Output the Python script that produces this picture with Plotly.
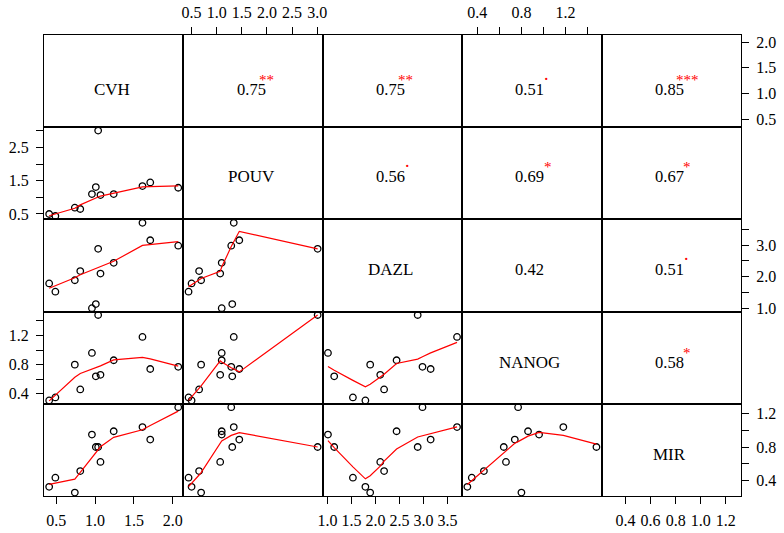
import numpy as np
import plotly.graph_objects as go
from plotly.subplots import make_subplots

# ---------------- data ----------------
names = ["CVH", "POUV", "DAZL", "NANOG", "MIR"]
CVH   = [0.41, 0.49, 0.74, 0.81, 0.96, 1.01, 1.04, 1.07, 1.24, 1.61, 1.71, 2.07]
POUV  = [0.50, 0.44, 0.69, 0.65, 1.10, 1.31, 3.01, 1.07, 1.10, 1.34, 1.45, 1.29]
DAZL  = [1.79, 1.53, 1.89, 2.18, 1.01, 1.14, 2.88, 2.10, 2.44, 3.70, 3.15, 2.98]
NANOG = [0.31, 0.35, 0.80, 0.46, 0.96, 0.64, 1.48, 0.66, 0.86, 1.18, 0.74, 0.77]
MIR   = [0.32, 0.43, 0.25, 0.51, 0.95, 0.80, 0.80, 0.62, 0.99, 1.04, 0.89, 1.28]

# upper-triangle correlations (row by row) and significance marks
corr_values = [0.75, 0.75, 0.51, 0.85, 0.56, 0.69, 0.67, 0.42, 0.51, 0.58]
corr_stars  = ["**", "**", ".", "***", ".", "*", "*", "", ".", "*"]

# tick values / labels: outer (top/bottom) axes of columns
col_tickvals = [[0.5, 1.0, 1.5, 2.0],
                [0.5, 1.0, 1.5, 2.0, 2.5, 3.0],
                [1.0, 1.5, 2.0, 2.5, 3.0, 3.5],
                [0.4, 0.6, 0.8, 1.0, 1.2, 1.4],
                [0.4, 0.6, 0.8, 1.0, 1.2]]
col_ticktext = [["0.5", "1.0", "1.5", "2.0"],
                ["0.5", "1.0", "1.5", "2.0", "2.5", "3.0"],
                ["1.0", "1.5", "2.0", "2.5", "3.0", "3.5"],
                ["0.4", "", "0.8", "", "1.2", ""],
                ["0.4", "0.6", "0.8", "1.0", "1.2"]]
# outer (left/right) axes of rows
row_tickvals = [[0.5, 1.0, 1.5, 2.0],
                [0.5, 1.0, 1.5, 2.0, 2.5, 3.0],
                [1.0, 1.5, 2.0, 2.5, 3.0, 3.5],
                [0.4, 0.6, 0.8, 1.0, 1.2, 1.4],
                [0.4, 0.6, 0.8, 1.0, 1.2]]
row_ticktext = [["0.5", "1.0", "1.5", "2.0"],
                ["0.5", "", "1.5", "", "2.5", ""],
                ["1.0", "", "2.0", "", "3.0", ""],
                ["0.4", "", "0.8", "", "1.2", ""],
                ["0.4", "", "0.8", "", "1.2"]]

data = [CVH, POUV, DAZL, NANOG, MIR]
FONT = "Liberation Serif"


def lowess(x, y, f=2 / 3, nsteps=3):
    """Port of R's clowess (stats::lowess)."""
    x = np.asarray(x, float)
    y = np.asarray(y, float)
    o = np.argsort(x, kind="stable")
    x = x[o]
    y = y[o]
    n = len(x)
    delta = 0.01 * (x[-1] - x[0])
    ns = max(2, min(n, int(f * n + 1e-7)))
    ys = np.zeros(n)
    state = {"rw": np.ones(n)}

    def lowest(xs, nleft, nright, userw):
        rng = x[n - 1] - x[0]
        h = max(xs - x[nleft], x[nright] - xs)
        h9 = 0.999 * h
        h1 = 0.001 * h
        w = np.zeros(n)
        a = 0.0
        j = nleft
        while j < n:
            r = abs(x[j] - xs)
            if r <= h9:
                if r <= h1:
                    w[j] = 1.0
                else:
                    w[j] = (1 - (r / h) ** 3) ** 3
                if userw:
                    w[j] *= state["rw"][j]
                a += w[j]
            elif x[j] > xs:
                break
            j += 1
        nrt = j - 1
        if a <= 0:
            return None
        sl = slice(nleft, nrt + 1)
        w[sl] /= a
        if h > 0:
            a = np.sum(w[sl] * x[sl])
            b = xs - a
            c = np.sum(w[sl] * (x[sl] - a) ** 2)
            if np.sqrt(c) > 0.001 * rng:
                b /= c
                w[sl] *= (b * (x[sl] - a) + 1)
        return np.sum(w[sl] * y[sl])

    it = 1
    while it <= nsteps + 1:
        nleft = 0
        nright = ns - 1
        last = -1
        i = 0
        while True:
            if nright < n - 1:
                d1 = x[i] - x[nleft]
                d2 = x[nright + 1] - x[i]
                if d1 > d2:
                    nleft += 1
                    nright += 1
                    continue
            v = lowest(x[i], nleft, nright, it > 1)
            ys[i] = y[i] if v is None else v
            if last < i - 1:
                denom = x[i] - x[last]
                for j in range(last + 1, i):
                    alpha = (x[j] - x[last]) / denom
                    ys[j] = alpha * ys[i] + (1 - alpha) * ys[last]
            last = i
            cut = x[last] + delta
            i = last + 1
            while i < n:
                if x[i] > cut:
                    break
                if x[i] == x[last]:
                    ys[i] = ys[last]
                    last = i
                i += 1
            i = max(last + 1, i - 1)
            if last >= n - 1:
                break
        res = y - ys
        sc = np.mean(np.abs(res))
        if it > nsteps:
            break
        ar = np.sort(np.abs(res))
        m1 = n // 2
        if n % 2 == 0:
            m2 = n - m1 - 1
            cmad = 3 * (ar[m1] + ar[m2])
        else:
            cmad = 6 * ar[m1]
        if cmad < 1e-7 * sc:
            break
        c9 = 0.999 * cmad
        c1 = 0.001 * cmad
        r = np.abs(res)
        state["rw"] = np.where(r <= c1, 1.0,
                               np.where(r <= c9, (1 - (r / cmad) ** 2) ** 2, 0.0))
        it += 1
    return x, ys


def prange(v):
    lo, hi = min(v), max(v)
    d = hi - lo
    return [lo - 0.04 * d, hi + 0.04 * d]


N = len(names)
fig = make_subplots(rows=N, cols=N, horizontal_spacing=0, vertical_spacing=0)

tickfont = dict(family=FONT, size=16, color="black")
row_yshift = [-8, -3, -4, -4.5, -4.5]
star_xshift = {"*": 16, "**": 13, "***": 16, ".": 15}
star_yshift = {"*": 9, "**": 9, "***": 9, ".": 15}
star_size = {"*": 15, "**": 15, "***": 15, ".": 18}

annotations = []
k_up = 0
for r in range(N):
    for c in range(N):
        k = r * N + c + 1
        suf = "" if k == 1 else str(k)
        if r > c:
            fig.add_trace(go.Scatter(
                x=data[c], y=data[r], mode="markers",
                marker=dict(symbol="circle-open", size=6.5, color="black",
                            line=dict(width=1.3, color="black")),
                hoverinfo="skip"), row=r + 1, col=c + 1)
            lx, ly = lowess(data[c], data[r])
            fig.add_trace(go.Scatter(
                x=lx, y=ly, mode="lines",
                line=dict(color="red", width=1.2), hoverinfo="skip"),
                row=r + 1, col=c + 1)
        else:
            # invisible placeholder so the (empty) panel and its axes exist
            fig.add_trace(go.Scatter(
                x=[float(np.mean(data[c]))], y=[float(np.mean(data[r]))],
                mode="markers", marker=dict(opacity=0, size=1),
                hoverinfo="skip"), row=r + 1, col=c + 1)
            if r == c:
                annotations.append(dict(
                    text=names[r], x=0.5, y=0.5, xref=f"x{suf} domain",
                    yref=f"y{suf} domain", showarrow=False, xshift=-2,
                    yshift=row_yshift[r],
                    font=dict(family=FONT, size=17, color="black")))
            else:
                val = corr_values[k_up]
                st = corr_stars[k_up]
                k_up += 1
                annotations.append(dict(
                    text=f"{val:.2f}", x=0.5, y=0.5, xref=f"x{suf} domain",
                    yref=f"y{suf} domain", showarrow=False, xshift=-2,
                    yshift=row_yshift[r],
                    font=dict(family=FONT, size=16.5, color="black")))
                if st:
                    annotations.append(dict(
                        text=st, x=0.5, y=0.5, xref=f"x{suf} domain",
                        yref=f"y{suf} domain", showarrow=False,
                        xshift=star_xshift[st],
                        yshift=row_yshift[r] + star_yshift[st],
                        font=dict(family=FONT, size=star_size[st],
                                  color="red")))

        # x axis
        xa = dict(range=prange(data[c]), showgrid=False, zeroline=False,
                  showline=True, mirror=True, linecolor="black", linewidth=1,
                  fixedrange=True, automargin=False)
        if r == N - 1 and c % 2 == 0:
            xa.update(side="bottom", ticks="outside", ticklen=7, tickwidth=1,
                      tickcolor="black", tickvals=col_tickvals[c],
                      ticktext=col_ticktext[c], showticklabels=True,
                      tickfont=tickfont, ticklabelstandoff=3)
        elif r == 0 and c % 2 == 1:
            xa.update(side="top", ticks="outside", ticklen=7, tickwidth=1,
                      tickcolor="black", tickvals=col_tickvals[c],
                      ticktext=col_ticktext[c], showticklabels=True,
                      tickfont=tickfont, ticklabelstandoff=3)
        else:
            xa.update(ticks="", showticklabels=False)
        fig.update_xaxes(xa, row=r + 1, col=c + 1)

        # y axis
        ya = dict(range=prange(data[r]), showgrid=False, zeroline=False,
                  showline=True, mirror=True, linecolor="black", linewidth=1,
                  fixedrange=True, automargin=False)
        if c == 0 and r % 2 == 1:
            ya.update(side="left", ticks="outside", ticklen=7, tickwidth=1,
                      tickcolor="black", tickvals=row_tickvals[r],
                      ticktext=row_ticktext[r], showticklabels=True,
                      tickfont=tickfont, ticklabelstandoff=4)
        elif c == N - 1 and r % 2 == 0:
            ya.update(side="right", ticks="outside", ticklen=7, tickwidth=1,
                      tickcolor="black", tickvals=row_tickvals[r],
                      ticktext=row_ticktext[r], showticklabels=True,
                      tickfont=tickfont, ticklabelstandoff=4)
        else:
            ya.update(ticks="", showticklabels=False)
        fig.update_yaxes(ya, row=r + 1, col=c + 1)

fig.update_layout(
    width=784, height=533,
    margin=dict(l=44, r=43, t=35, b=37, pad=0),
    paper_bgcolor="white", plot_bgcolor="white",
    showlegend=False, annotations=annotations,
    font=dict(family=FONT, color="black"),
)

fig.write_html(
    "out.html",
    config={"displayModeBar": False, "staticPlot": True},
    post_script="document.body.style.margin='0';"
                "document.body.style.overflow='hidden';",
)
